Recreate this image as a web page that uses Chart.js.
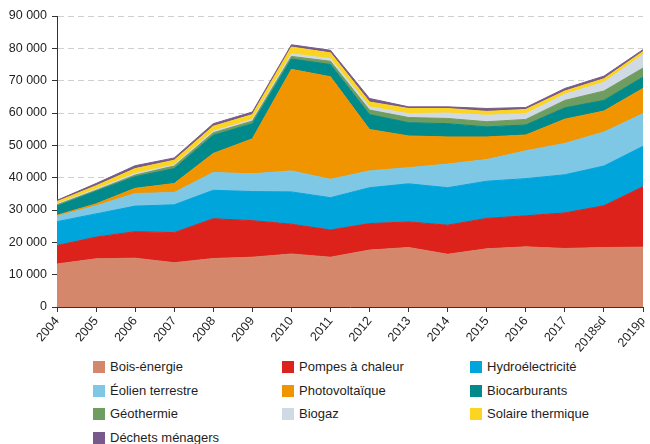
<!DOCTYPE html>
<html lang="fr">
<head>
<meta charset="utf-8">
<script src="https://cdn.jsdelivr.net/npm/chart.js@4/dist/chart.umd.min.js"></script>
<style>
  body { margin: 0; background: #fff; font-family: "Liberation Sans", Arial, Helvetica, sans-serif; }
  #wrap { position: relative; width: 650px; height: 444px; }
  #chartBox { position: absolute; left: 0; top: 0; width: 650px; height: 356px; }
  #legend { position: absolute; left: 0; top: 358px; width: 650px; }
  .item { position: absolute; font-size: 13px; color: #1e1e1e; line-height: 14px; white-space: nowrap; }
  .item span.box { position: absolute; left: 0; top: 1px; width: 12px; height: 12px; }
  .item span.lbl { position: absolute; left: 17px; top: 0; }
</style>
</head>
<body>
<div id="wrap">
  <div id="chartBox"><canvas id="chart"></canvas></div>
  <div id="legend"></div>
</div>
<script>
// Années
const years = ["2004", "2005", "2006", "2007", "2008", "2009", "2010", "2011",
  "2012", "2013", "2014", "2015", "2016", "2017", "2018sd", "2019p"];

// Valeurs par filière
const boisEnergie = [13300, 14900, 15100, 13700, 15000, 15400, 16400, 15400, 17600, 18400, 16300, 18000, 18600, 18100, 18400, 18500];
const pompesChaleur = [5700, 6700, 8200, 9300, 12300, 11300, 9200, 8400, 8200, 7900, 9000, 9400, 9600, 11000, 12900, 18700];
const hydro = [7400, 7200, 7900, 8600, 8800, 9000, 10000, 10000, 11100, 11800, 11600, 11500, 11500, 11800, 12300, 12500];
const eolien = [1700, 2500, 3900, 3800, 5500, 5500, 6500, 5700, 5200, 5000, 7300, 6700, 8600, 9700, 10500, 10100];
const photovoltaique = [300, 600, 1600, 2800, 5900, 10800, 31400, 31700, 12800, 9800, 8400, 7000, 4900, 7500, 6500, 7800];
const biocarburants = [2800, 3900, 3600, 4600, 5600, 4700, 3200, 3800, 4600, 4100, 4100, 3100, 3100, 3500, 3300, 3500];
const geothermie = [400, 300, 500, 800, 800, 800, 800, 1000, 1400, 1600, 1600, 1600, 1700, 2300, 2900, 2800];
const biogaz = [300, 400, 500, 400, 500, 500, 800, 800, 1000, 1200, 1700, 2000, 1800, 1900, 2700, 4200];
const solaireThermique = [700, 1000, 1500, 1400, 1500, 1500, 2100, 1800, 1500, 1600, 1400, 1200, 1300, 1000, 1100, 900];
const dechets = [400, 700, 900, 700, 800, 800, 700, 800, 1100, 500, 500, 900, 600, 800, 800, 600];

const yTicks = [0, 10000, 20000, 30000, 40000, 50000, 60000, 70000, 80000, 90000];

const series = [
  { label: "Bois-énergie", data: boisEnergie, color: "#d5876b" },
  { label: "Pompes à chaleur", data: pompesChaleur, color: "#dc221a" },
  { label: "Hydroélectricité", data: hydro, color: "#00a5dc" },
  { label: "Éolien terrestre", data: eolien, color: "#7ec8e5" },
  { label: "Photovoltaïque", data: photovoltaique, color: "#f09400" },
  { label: "Biocarburants", data: biocarburants, color: "#008a8b" },
  { label: "Géothermie", data: geothermie, color: "#6f9c5f" },
  { label: "Biogaz", data: biogaz, color: "#cfdae4" },
  { label: "Solaire thermique", data: solaireThermique, color: "#fbd521" },
  { label: "Déchets ménagers", data: dechets, color: "#775a8a" }
];

const FONT = "'Liberation Sans', Arial, Helvetica, sans-serif";
const DARK = "#333";

function fmt(v) {
  return String(v).replace(/\B(?=(\d{3})+(?!\d))/g, " ");
}

const datasets = series.map((s, i) => ({
  label: s.label,
  data: s.data,
  backgroundColor: s.color,
  borderColor: s.color,
  borderWidth: 1,
  pointRadius: 0,
  tension: 0,
  fill: i === 0 ? "origin" : "-1"
}));

new Chart(document.getElementById("chart"), {
  type: "line",
  data: { labels: years, datasets: datasets },
  options: {
    responsive: true,
    maintainAspectRatio: false,
    animation: false,
    layout: { padding: { top: 16, right: 7, left: 0, bottom: 0 } },
    plugins: { legend: { display: false }, tooltip: { enabled: false } },
    scales: {
      x: {
        offset: false,
        grid: { drawOnChartArea: false, drawTicks: true, tickLength: 5, color: DARK },
        border: { display: true, color: DARK, width: 1 },
        ticks: {
          color: "#1e1e1e",
          font: { family: FONT, size: 12.5 },
          minRotation: 50,
          maxRotation: 50,
          autoSkip: false,
          padding: 2
        },
        afterFit: (scale) => {
          scale.height = 49;
          scale.paddingLeft = 0;
          scale.paddingRight = 0;
        }
      },
      y: {
        stacked: true,
        min: 0,
        max: 90000,
        afterBuildTicks: (scale) => { scale.ticks = yTicks.map((v) => ({ value: v })); },
        grid: {
          color: (ctx) => (ctx.tick && ctx.tick.value === 0 ? "rgba(0,0,0,0)" : "#cfcfcf"),
          tickColor: DARK,
          tickLength: 5,
          tickBorderDash: []
        },
        border: { display: true, color: DARK, width: 1, dash: [6, 4] },
        ticks: {
          color: "#1e1e1e",
          font: { family: FONT, size: 12.5 },
          padding: 5,
          callback: (v) => fmt(v)
        },
        afterFit: (scale) => { scale.width = 57; }
      }
    }
  }
});

// Légende HTML en 3 colonnes
const legend = document.getElementById("legend");
const colX = [93, 282, 470];
const rowY = [2, 26, 49, 73];
series.forEach((s, i) => {
  const el = document.createElement("div");
  el.className = "item";
  el.style.left = colX[i % 3] + "px";
  el.style.top = rowY[Math.floor(i / 3)] + "px";
  el.innerHTML = '<span class="box" style="background:' + s.color + '"></span><span class="lbl">' + s.label + "</span>";
  legend.appendChild(el);
});
</script>
</body>
</html>
